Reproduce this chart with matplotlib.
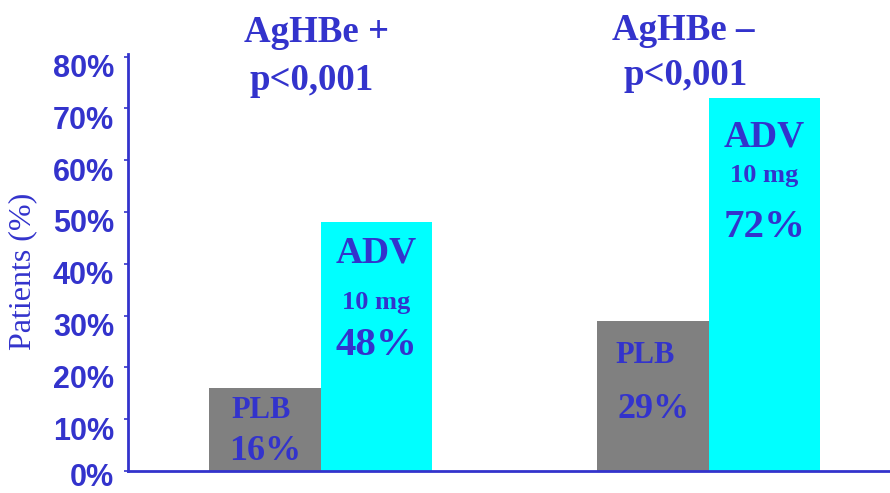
import matplotlib.pyplot as plt
from matplotlib.transforms import ScaledTranslation

# data
groups = ["AgHBe +", "AgHBe \u2013"]
pvalues = ["p<0,001", "p<0,001"]
placebo = [16, 29]
adefovir = [48, 72]
yticks = [0, 10, 20, 30, 40, 50, 60, 70, 80]

BLUE = "#3333CC"
SERIF = ["Liberation Serif", "DejaVu Serif"]
SANS = ["Liberation Sans", "DejaVu Sans"]

fig = plt.figure(figsize=(8.9, 4.93), dpi=100)
ax = fig.add_axes([128 / 890, 22 / 493, 762 / 890, 417 / 493])

w = 0.287
xs = list(range(len(groups)))
ax.bar([x - w / 2 for x in xs], placebo, width=w, color="#808080")
ax.bar([x + w / 2 for x in xs], adefovir, width=w, color="#00FFFF")

ax.set_xlim(-0.497, 1.467)
ax.set_ylim(0, 80.5)

for s in ["top", "right"]:
    ax.spines[s].set_visible(False)
for s in ["left", "bottom"]:
    ax.spines[s].set_color(BLUE)
    ax.spines[s].set_linewidth(2)

ax.set_xticks([])
ax.set_yticks(yticks)
ax.set_yticklabels([f"{v}%" for v in yticks])
ax.tick_params(axis="y", length=3, width=1.2, color=BLUE, pad=7)
for lbl in ax.get_yticklabels():
    # labels sit a little below their ticks, the bottom one less so it stays inside
    shift = -3 if lbl.get_text() == "0%" else -9
    off = ScaledTranslation(0, shift / 100, fig.dpi_scale_trans)
    lbl.set_family(SANS)
    lbl.set_fontweight("bold")
    lbl.set_fontsize(22)
    lbl.set_color(BLUE)
    lbl.set_transform(lbl.get_transform() + off)

fig.text(23 / 890, (493 - 271) / 493, "Patients (%)", rotation=90,
         ha="center", va="center", fontsize=23, family=SERIF, color=BLUE)

# titles above each group
title_dx = [(-0.010, -0.023), (-0.067, -0.061)]
title_y = [(82.8, 73.6), (83.2, 74.5)]
for i, x in enumerate(xs):
    ax.text(x + title_dx[i][0], title_y[i][0], groups[i], ha="center",
            va="baseline", fontsize=26.6, fontweight="bold", family=SERIF,
            color=BLUE, clip_on=False)
    ax.text(x + title_dx[i][1], title_y[i][1], pvalues[i], ha="center",
            va="baseline", fontsize=26.6, fontweight="bold", family=SERIF,
            color=BLUE, clip_on=False)

# labels inside the bars
plb_dx = [(-0.01, 0.0), (-0.02, 0.0)]
plb_y = [(10.2, 2.1), (20.8, 10.2)]
adv_y = [(40.2, 31.3, 22.4), (62.7, 55.8, 45.2)]
for i, x in enumerate(xs):
    cx = x - w / 2
    ax.text(cx + plb_dx[i][0], plb_y[i][0], "PLB", ha="center", va="baseline",
            fontsize=22, fontweight="bold", family=SERIF, color=BLUE)
    ax.text(cx + plb_dx[i][1], plb_y[i][1], f"{placebo[i]}%", ha="center",
            va="baseline", fontsize=26, fontweight="bold", family=SERIF,
            color=BLUE)
    cx = x + w / 2
    ax.text(cx, adv_y[i][0], "ADV", ha="center", va="baseline",
            fontsize=27, fontweight="bold", family=SERIF, color=BLUE)
    ax.text(cx, adv_y[i][1], "10 mg", ha="center", va="baseline",
            fontsize=19, fontweight="bold", family=SERIF, color=BLUE)
    ax.text(cx, adv_y[i][2], f"{adefovir[i]}%", ha="center", va="baseline",
            fontsize=29.5, fontweight="bold", family=SERIF, color=BLUE)

fig.savefig("out.png", dpi=100)
